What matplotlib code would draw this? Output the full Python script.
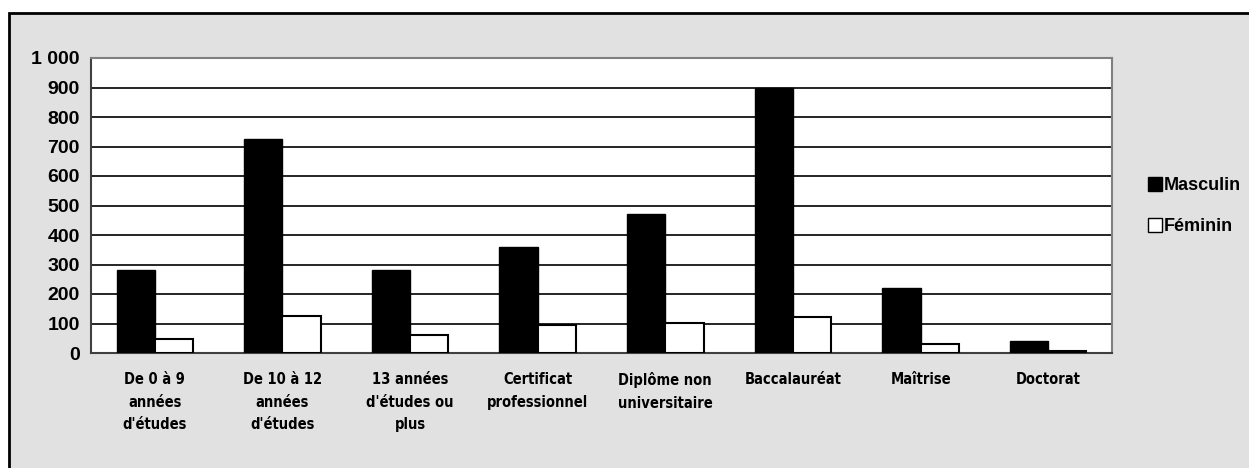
import matplotlib
matplotlib.use("Agg")
import matplotlib.pyplot as plt
import numpy as np
from matplotlib.patches import Rectangle
from matplotlib.lines import Line2D
from matplotlib.font_manager import fontManager

categories = ["De 0 à 9\nannées\nd'études", "De 10 à 12\nannées\nd'études",
              "13 années\nd'études ou\nplus", "Certificat\nprofessionnel",
              "Diplôme non\nuniversitaire", "Baccalauréat", "Maîtrise", "Doctorat"]
masculin = [280, 725, 280, 360, 470, 900, 220, 40]
feminin = [47, 125, 62, 94, 102, 122, 30, 8]
yticks = [0, 100, 200, 300, 400, 500, 600, 700, 800, 900, 1000]
yticklabels = ["0", "100", "200", "300", "400", "500", "600", "700", "800", "900", "1 000"]

names = {f.name for f in fontManager.ttflist}
bold = "Liberation Sans" if "Liberation Sans" in names else "DejaVu Sans"

W, H = 1249, 468
fig = plt.figure(figsize=(W / 100, H / 100), dpi=100, facecolor="white")
fig.patches.append(Rectangle((9 / W, -0.05), 1.1, 1 - 13 / H + 0.05, transform=fig.transFigure,
                             facecolor="#e1e1e1", edgecolor="black", linewidth=2, zorder=-5))

ax = fig.add_axes([91 / W, 1 - 353 / H, (1112 - 91) / W, (353 - 58) / H])
ax.set_zorder(2)
ax.set_facecolor("white")
x = np.arange(len(categories))
bw = 0.3
ax.bar(x - bw / 2, masculin, width=bw, color="black", edgecolor="black", linewidth=1, zorder=3)
ax.bar(x + bw / 2, feminin, width=bw, color="white", edgecolor="black", linewidth=1.5, zorder=3)
ax.set_xlim(-0.5, len(categories) - 0.5)
ax.set_ylim(0, 1000)
ax.set_yticks(yticks)
ax.set_yticklabels(yticklabels, fontsize=14, fontweight="bold", family=bold)
ax.set_xticks(x)
ax.set_xticklabels(categories, fontsize=10.5, fontweight="heavy", family="DejaVu Sans",
                   fontstretch="condensed", linespacing=1.6, va="top")
ax.tick_params(axis="both", length=0)
ax.tick_params(axis="x", pad=14)
ax.tick_params(axis="y", pad=8)
ax.grid(axis="y", color="black", linewidth=1.2, zorder=1)
ax.set_axisbelow(True)
for s in ax.spines.values():
    s.set_color("#808080")
    s.set_linewidth(1.5)
ax.spines["left"].set_color("#404040")
ax.spines["bottom"].set_color("#404040")

handles = [Line2D([], [], marker="s", linestyle="none", markersize=10, markerfacecolor="black",
                  markeredgecolor="black"),
           Line2D([], [], marker="s", linestyle="none", markersize=10, markerfacecolor="white",
                  markeredgecolor="black")]
leg = fig.legend(handles, ["Masculin", "Féminin"], loc="upper left", bbox_to_anchor=(1138 / W, 1 - 168 / H),
                 frameon=False, prop={"family": bold, "weight": "bold", "size": 13},
                 handletextpad=0.05, labelspacing=1.35, handlelength=0.9, borderpad=0)
leg.set_zorder(3)

fig.savefig("out.png", dpi=100, facecolor="white")
